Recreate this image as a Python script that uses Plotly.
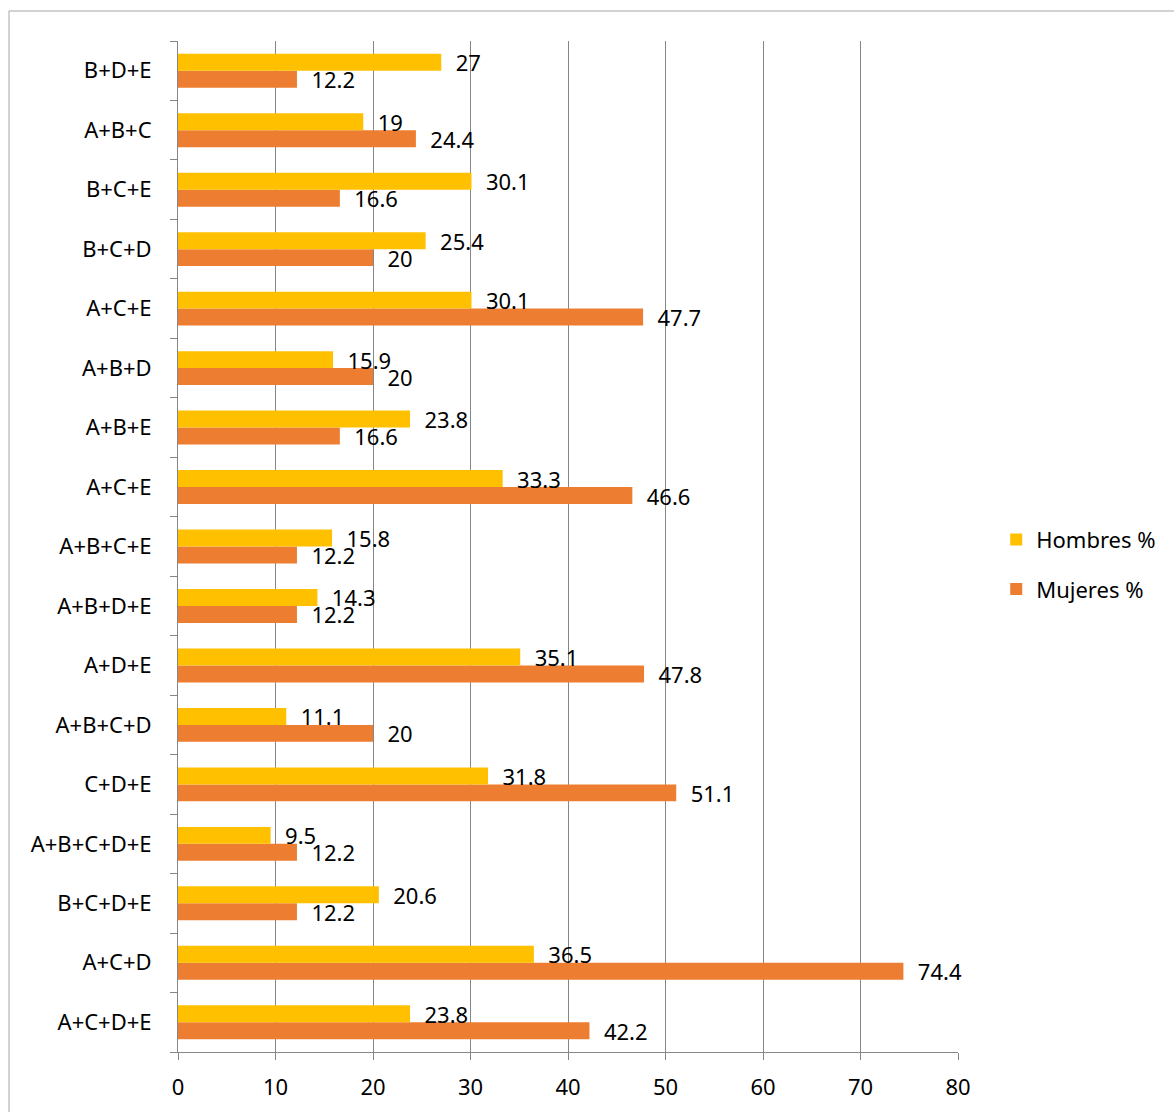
import plotly.graph_objects as go

categories = ["A+C+D+E", "A+C+D", "B+C+D+E", "A+B+C+D+E", "C+D+E", "A+B+C+D",
              "A+D+E", "A+B+D+E", "A+B+C+E", "A+C+E", "A+B+E", "A+B+D",
              "A+C+E", "B+C+D", "B+C+E", "A+B+C", "B+D+E"]
hombres = [23.8, 36.5, 20.6, 9.5, 31.8, 11.1, 35.1, 14.3, 15.8, 33.3, 23.8, 15.9,
           30.1, 25.4, 30.1, 19, 27]
mujeres = [42.2, 74.4, 12.2, 12.2, 51.1, 20, 47.8, 12.2, 12.2, 46.6, 16.6, 20,
           47.7, 20, 16.6, 24.4, 12.2]
x_ticks = [0, 10, 20, 30, 40, 50, 60, 70, 80]

pos = list(range(len(categories)))
FONT = "Noto Sans"
GRID = "#868686"

fig = go.Figure()
fig.add_trace(go.Bar(
    y=pos, x=mujeres, orientation="h", name="Mujeres %",
    marker=dict(color="#ED7D31", line=dict(width=0)),
    texttemplate="\u00a0\u00a0%{x}", textposition="outside",
    constraintext="none", cliponaxis=False,
    textfont=dict(family=FONT, size=22, color="#000000"),
    legendgroup="m", legendrank=2,
))
fig.add_trace(go.Bar(
    y=pos, x=hombres, orientation="h", name="Hombres %",
    marker=dict(color="#FFC000", line=dict(width=0)),
    texttemplate="\u00a0\u00a0%{x}", textposition="outside",
    constraintext="none", cliponaxis=False,
    textfont=dict(family=FONT, size=22, color="#000000"),
    legendgroup="h", legendrank=1,
))

fig.update_layout(
    width=1174, height=1112,
    margin=dict(l=178, r=216, t=41, b=60, autoexpand=False),
    paper_bgcolor="white", plot_bgcolor="white",
    barmode="group", bargap=0.43, bargroupgap=0,
    font=dict(family=FONT, size=22, color="#000000"),
    showlegend=True,
    legend=dict(x=1.049, y=0.482, xanchor="left", yanchor="middle",
                font=dict(family=FONT, size=22, color="#000000"),
                tracegroupgap=18, traceorder="grouped",
                bgcolor="rgba(0,0,0,0)"),
    xaxis=dict(range=[0, 80], tickvals=x_ticks, ticktext=[str(v) for v in x_ticks],
               showgrid=True, gridcolor=GRID, gridwidth=1,
               showline=True, linecolor=GRID, linewidth=1,
               ticks="outside", ticklen=7, tickcolor=GRID,
               ticklabelstandoff=9, zeroline=False, automargin=False,
               tickfont=dict(family=FONT, size=22, color="#000000")),
    yaxis=dict(range=[-0.5, len(categories) - 0.5], tickvals=pos, ticktext=categories,
               showgrid=False, showline=True, linecolor=GRID, linewidth=1,
               ticks="outside", ticklen=7, tickcolor="rgba(0,0,0,0)",
               ticklabelstandoff=14, zeroline=False, automargin=False,
               minor=dict(tickmode="array",
                          tickvals=[p - 0.5 for p in pos] + [len(categories) - 0.5],
                          ticks="outside", ticklen=7, tickcolor=GRID, showgrid=False),
               tickfont=dict(family=FONT, size=22, color="#000000")),
)

# outer chart frame
fig.add_shape(type="rect", xref="paper", yref="paper",
              x0=(9 - 178) / 780, x1=(1190 - 178) / 780,
              y0=(1052 - 1130) / 1011, y1=(1052 - 11) / 1011,
              line=dict(color="#A6A6A6", width=1), fillcolor="rgba(0,0,0,0)",
              layer="below")

fig.write_html("out.html")
